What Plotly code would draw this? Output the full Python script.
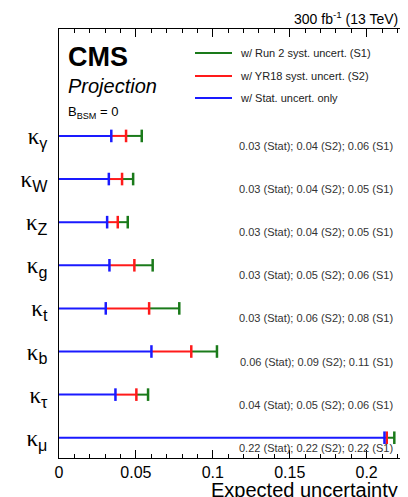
import plotly.graph_objects as go

K = '<span style="font-family:Liberation Serif">κ</span>'
params = [K + "<sub>γ</sub>", K + "<sub>W</sub>", K + "<sub>Z</sub>", K + "<sub>g</sub>",
          K + "<sub>t</sub>", K + "<sub>b</sub>", K + "<sub>τ</sub>", K + "<sub>μ</sub>"]
stat = [0.034, 0.0324, 0.0313, 0.0328, 0.0304, 0.0601, 0.0367, 0.2116]
s2 = [0.0436, 0.041, 0.0382, 0.049, 0.0586, 0.086, 0.0503, 0.2131]
s1 = [0.0538, 0.0482, 0.0447, 0.0609, 0.0782, 0.1027, 0.0579, 0.218]
labels = ["0.03 (Stat); 0.04 (S2); 0.06 (S1)",
          "0.03 (Stat); 0.04 (S2); 0.05 (S1)",
          "0.03 (Stat); 0.04 (S2); 0.05 (S1)",
          "0.03 (Stat); 0.05 (S2); 0.06 (S1)",
          "0.03 (Stat); 0.06 (S2); 0.08 (S1)",
          "0.06 (Stat); 0.09 (S2); 0.11 (S1)",
          "0.04 (Stat); 0.05 (S2); 0.06 (S1)",
          "0.22 (Stat); 0.22 (S2); 0.22 (S1)"]
xticks = [0, 0.05, 0.1, 0.15, 0.2]
xticktext = ["0", "0.05", "0.1", "0.15", "0.2"]

n = len(params)
ypos = [n - 1 - i for i in range(n)]

FONT = "Liberation Sans, Arial, sans-serif"
GREEN, RED, BLUE = "#1a7a1a", "#ff1a1a", "#1a1aff"
fig = go.Figure()

# segments: blue 0->stat, red stat->s2, green s2->s1 (no overlap)
segs = [(stat, [0] * n, BLUE), (s2, stat, RED), (s1, s2, GREEN)]
for ends, starts, col in segs:
    xs, ys = [], []
    for a, b, y in zip(starts, ends, ypos):
        xs += [a, b, None]
        ys += [y, y, None]
    fig.add_trace(go.Scatter(x=xs, y=ys, mode="lines", line=dict(color=col, width=2),
                             showlegend=False, hoverinfo="skip"))
for vals, col in [(s1, GREEN), (s2, RED), (stat, BLUE)]:
    fig.add_trace(go.Scatter(x=vals, y=ypos, mode="markers",
                             marker=dict(symbol="line-ns", size=9,
                                         line=dict(color=col, width=2.5)),
                             showlegend=False, hoverinfo="skip"))

for t, y in zip(labels, ypos):
    fig.add_annotation(x=0.2185, y=y, text=t, xref="x", yref="y", showarrow=False,
                       xanchor="right", yanchor="middle", yshift=-10,
                       font=dict(size=11, color="#333", family=FONT))

# page body has 8px margin: plot frame at page x 59..400, y 29..458
W, H = 392, 489
L, R, T, B = 51, 0, 21, 39
PW, PH = W - L - R, H - T - B


def px(xp):
    return (xp - 8 - L) / PW


def py(yp):
    return 1 - (yp - 8 - T) / PH


leg = [("w/ Run 2 syst. uncert. (S1)", GREEN, 53),
       ("w/ YR18 syst. uncert. (S2)", RED, 76),
       ("w/ Stat. uncert. only", BLUE, 98)]
for txt, col, yy in leg:
    fig.add_shape(type="line", xref="paper", yref="paper",
                  x0=px(195), x1=px(232), y0=py(yy), y1=py(yy),
                  line=dict(color=col, width=2))
    fig.add_annotation(xref="paper", yref="paper", x=px(238), y=py(yy), text=txt,
                       showarrow=False, xanchor="left", yanchor="middle",
                       font=dict(size=11, color="#222", family=FONT))

fig.add_annotation(xref="paper", yref="paper", x=px(66), y=py(57),
                   text="<b>CMS</b>", showarrow=False, xanchor="left", yanchor="middle",
                   font=dict(size=27, color="black", family=FONT))
fig.add_annotation(xref="paper", yref="paper", x=px(66), y=py(86),
                   text="<i>Projection</i>", showarrow=False, xanchor="left", yanchor="middle",
                   font=dict(size=20, color="black", family=FONT))
fig.add_annotation(xref="paper", yref="paper", x=px(66), y=py(112),
                   text="B<sub>BSM</sub> = 0", showarrow=False, xanchor="left", yanchor="middle",
                   font=dict(size=13, color="black", family=FONT))
fig.add_annotation(xref="paper", yref="paper", x=1, y=py(18),
                   text="300 fb<sup>-1</sup> (13 TeV)", showarrow=False, xanchor="right",
                   yanchor="middle", font=dict(size=14, color="black", family=FONT))
fig.add_annotation(xref="paper", yref="paper", x=1, y=py(490),
                   text="Expected uncertainty", showarrow=False, xanchor="right",
                   yanchor="middle", font=dict(size=20, color="black", family=FONT))

fig.update_layout(
    width=W, height=H,
    margin=dict(l=L, r=R, t=T, b=B, autoexpand=False),
    paper_bgcolor="white", plot_bgcolor="white",
    font=dict(family=FONT, color="black"),
    xaxis=dict(range=[0, 0.2217], tickvals=xticks, ticktext=xticktext,
               ticks="inside", ticklen=8, tickcolor="black", tickwidth=1,
               minor=dict(dtick=0.01, ticks="inside", ticklen=4, tickcolor="black"),
               showline=True, linecolor="black", linewidth=1, mirror="allticks",
               showgrid=False, zeroline=False, tickfont=dict(size=16), automargin=False),
    yaxis=dict(range=[-0.47, 9.48], tickvals=ypos, ticktext=params, ticks="",
               showline=True, linecolor="black", linewidth=1, mirror=True,
               showgrid=False, zeroline=False, tickfont=dict(size=23),
               ticklabelstandoff=6, automargin=False),
)

fig.write_html("out.html")
